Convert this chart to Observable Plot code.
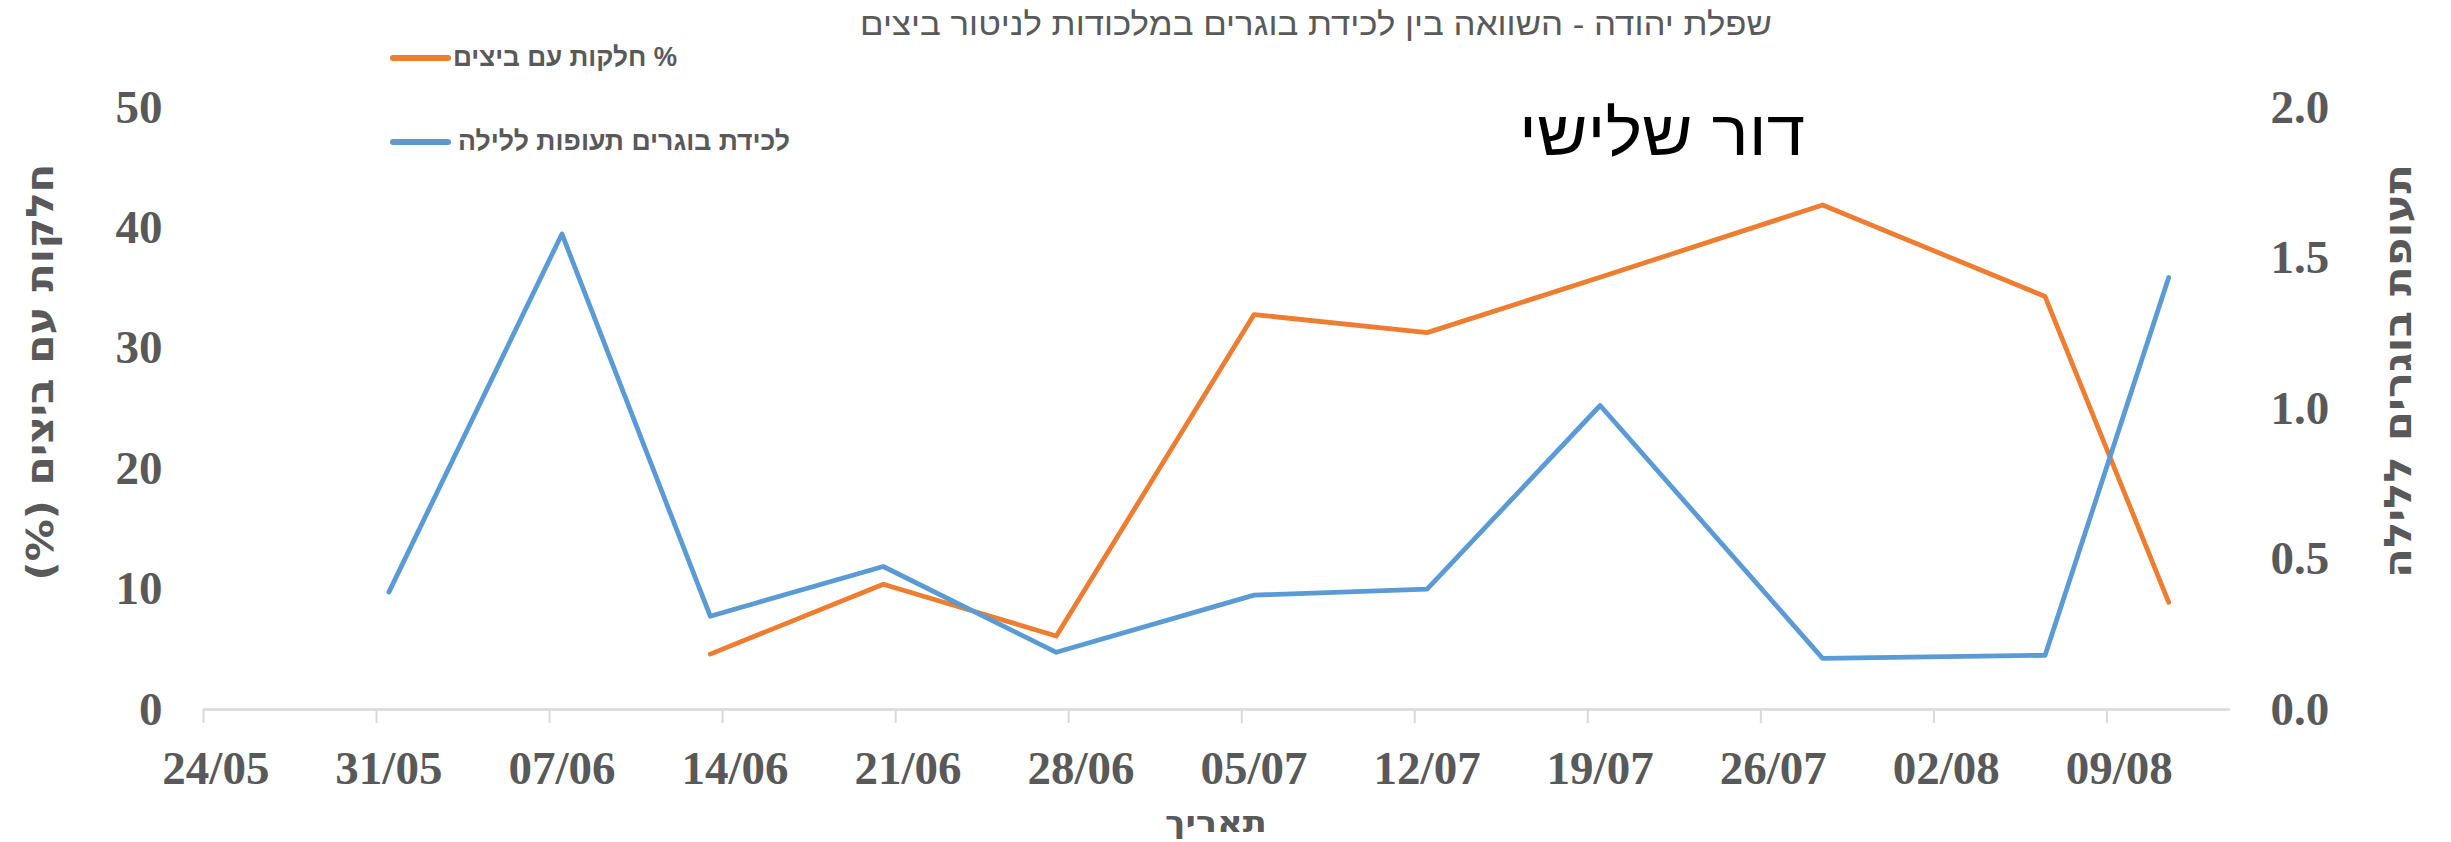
<!DOCTYPE html>
<html>
<head>
<meta charset="utf-8">
<script src="https://cdn.jsdelivr.net/npm/d3@7"></script>
<script src="https://cdn.jsdelivr.net/npm/@observablehq/plot@0.6"></script>
<style>
  html, body { margin: 0; padding: 0; background: #fff; }
</style>
</head>
<body>
<div id="chart"></div>
<script>
// ---- Data ----
const titleText = "שפלת יהודה - השוואה בין לכידת בוגרים במלכודות לניטור ביצים";
const subTitleText = "דור שלישי";
const seriesNames = ["% חלקות עם ביצים", "לכידת בוגרים תעופות ללילה"];
const leftAxisTitle = "חלקות עם ביצים (%)";
const rightAxisTitle = "תעופת בוגרים ללילה";
const xAxisTitle = "תאריך";

const weekTicks = ["2021-05-24","2021-05-31","2021-06-07","2021-06-14","2021-06-21","2021-06-28",
                   "2021-07-05","2021-07-12","2021-07-19","2021-07-26","2021-08-02","2021-08-09"];
const xDomain = ["2021-05-24","2021-08-14"];
const leftTicks = [0, 10, 20, 30, 40, 50];
const rightTicks = [0.0, 0.5, 1.0, 1.5, 2.0];

const eggDates = ["2021-06-13","2021-06-20","2021-06-27","2021-07-05","2021-07-12","2021-07-19","2021-07-28","2021-08-06","2021-08-11"];
const eggPct   = [4.6, 10.4, 6.1, 32.8, 31.3, 35.9, 41.9, 34.3, 8.9];

const trapDates = ["2021-05-31","2021-06-07","2021-06-13","2021-06-20","2021-06-27","2021-07-05","2021-07-12","2021-07-19","2021-07-28","2021-08-06","2021-08-11"];
const trapVals  = [0.39, 1.58, 0.31, 0.475, 0.19, 0.38, 0.40, 1.01, 0.17, 0.18, 1.435];

const colors = ["#ED7D31", "#5B9BD5"];

// ---- Build ----
const HALF_DAY = 12 * 3600 * 1000;
const parse = s => new Date(s + "T00:00:00Z");
const mid = s => new Date(parse(s).getTime() + HALF_DAY); // Excel date-axis: point at day centre
const ratio = 50 / 2.0; // right axis 0..2 maps onto left 0..50

const eggs = eggDates.map((d, i) => ({date: mid(d), v: eggPct[i]}));
const traps = trapDates.map((d, i) => ({date: mid(d), v: trapVals[i] * ratio}));
const fmt = d3.utcFormat("%d/%m");

const chart = Plot.plot({
  width: 2451,
  height: 842,
  marginLeft: 203,
  marginRight: 221,
  marginTop: 107,
  marginBottom: 133,
  style: {fontFamily: "'Liberation Serif', 'Times New Roman', serif", fontWeight: "bold", fontSize: "47px", color: "#595959", background: "#fff"},
  x: {type: "utc", domain: xDomain.map(parse)},
  y: {domain: [0, 50]},
  marks: [
    Plot.axisX(weekTicks.map(parse), {tickSize: 14, stroke: "#d9d9d9", strokeWidth: 2, tickFormat: () => "", label: null}),
    Plot.axisX(weekTicks.map(mid), {tickSize: 0, tickPadding: 41, tickFormat: d => fmt(new Date(d.getTime() - HALF_DAY)), label: null}),
    Plot.axisY(leftTicks, {tickSize: 0, tickPadding: 41, label: null}),
    Plot.axisY(rightTicks.map(t => t * ratio), {anchor: "right", tickSize: 0, tickPadding: 40, tickFormat: d => (d / ratio).toFixed(1), label: null}),
    Plot.ruleY([0], {stroke: "#d9d9d9", strokeWidth: 2.5}),
    Plot.line(eggs, {x: "date", y: "v", stroke: colors[0], strokeWidth: 4.8}),
    Plot.line(traps, {x: "date", y: "v", stroke: colors[1], strokeWidth: 4.8})
  ]
});
document.getElementById("chart").appendChild(chart);

// ---- Annotations (titles, legend) ----
const svg = d3.select(chart);
const sans = "'Liberation Sans Narrow', 'Liberation Sans', Arial, sans-serif";
const heavy = "'DejaVu Sans', 'Liberation Sans', sans-serif";

svg.append("text")
  .attr("x", 1316).attr("y", 35)
  .attr("text-anchor", "middle").attr("direction", "rtl")
  .attr("font-family", sans).attr("font-weight", "normal").attr("font-size", 32)
  .attr("fill", "#595959")
  .attr("textLength", 912).attr("lengthAdjust", "spacingAndGlyphs")
  .text(titleText);

svg.append("text")
  .attr("x", 1662).attr("y", 155)
  .attr("text-anchor", "middle").attr("direction", "rtl")
  .attr("font-family", "'Liberation Sans', Arial, sans-serif").attr("font-weight", "normal").attr("font-size", 64)
  .attr("fill", "#000")
  .attr("textLength", 286).attr("lengthAdjust", "spacingAndGlyphs")
  .text(subTitleText);

// legend
const legendRows = [
  {y: 58, cx: 565, w: 224},
  {y: 142, cx: 624, w: 332}
];
legendRows.forEach((r, i) => {
  svg.append("line")
    .attr("x1", 393).attr("x2", 448).attr("y1", r.y).attr("y2", r.y)
    .attr("stroke", colors[i]).attr("stroke-width", 6).attr("stroke-linecap", "round");
  svg.append("text")
    .attr("x", r.cx).attr("y", r.y + 8)
    .attr("text-anchor", "middle").attr("direction", "rtl")
    .attr("font-family", sans).attr("font-weight", "bold").attr("font-size", 27)
    .attr("fill", "#595959")
    .attr("textLength", r.w).attr("lengthAdjust", "spacingAndGlyphs")
    .text(seriesNames[i]);
});

// axis titles
svg.append("g").attr("transform", "translate(40,372) rotate(-90)")
  .append("text")
  .attr("text-anchor", "middle").attr("direction", "rtl").attr("dy", "0.35em")
  .attr("font-family", heavy).attr("font-weight", "bold").attr("font-size", 38)
  .attr("fill", "#595959")
  .attr("textLength", 417).attr("lengthAdjust", "spacingAndGlyphs")
  .text(leftAxisTitle);

svg.append("g").attr("transform", "translate(2398,371) rotate(-90)")
  .append("text")
  .attr("text-anchor", "middle").attr("direction", "rtl").attr("dy", "0.35em")
  .attr("font-family", heavy).attr("font-weight", "bold").attr("font-size", 38)
  .attr("fill", "#595959")
  .attr("textLength", 414).attr("lengthAdjust", "spacingAndGlyphs")
  .text(rightAxisTitle);

svg.append("text")
  .attr("x", 1216).attr("y", 832)
  .attr("text-anchor", "middle").attr("direction", "rtl")
  .attr("font-family", heavy).attr("font-weight", "bold").attr("font-size", 30)
  .attr("fill", "#595959")
  .attr("textLength", 102).attr("lengthAdjust", "spacingAndGlyphs")
  .text(xAxisTitle);
</script>
</body>
</html>
